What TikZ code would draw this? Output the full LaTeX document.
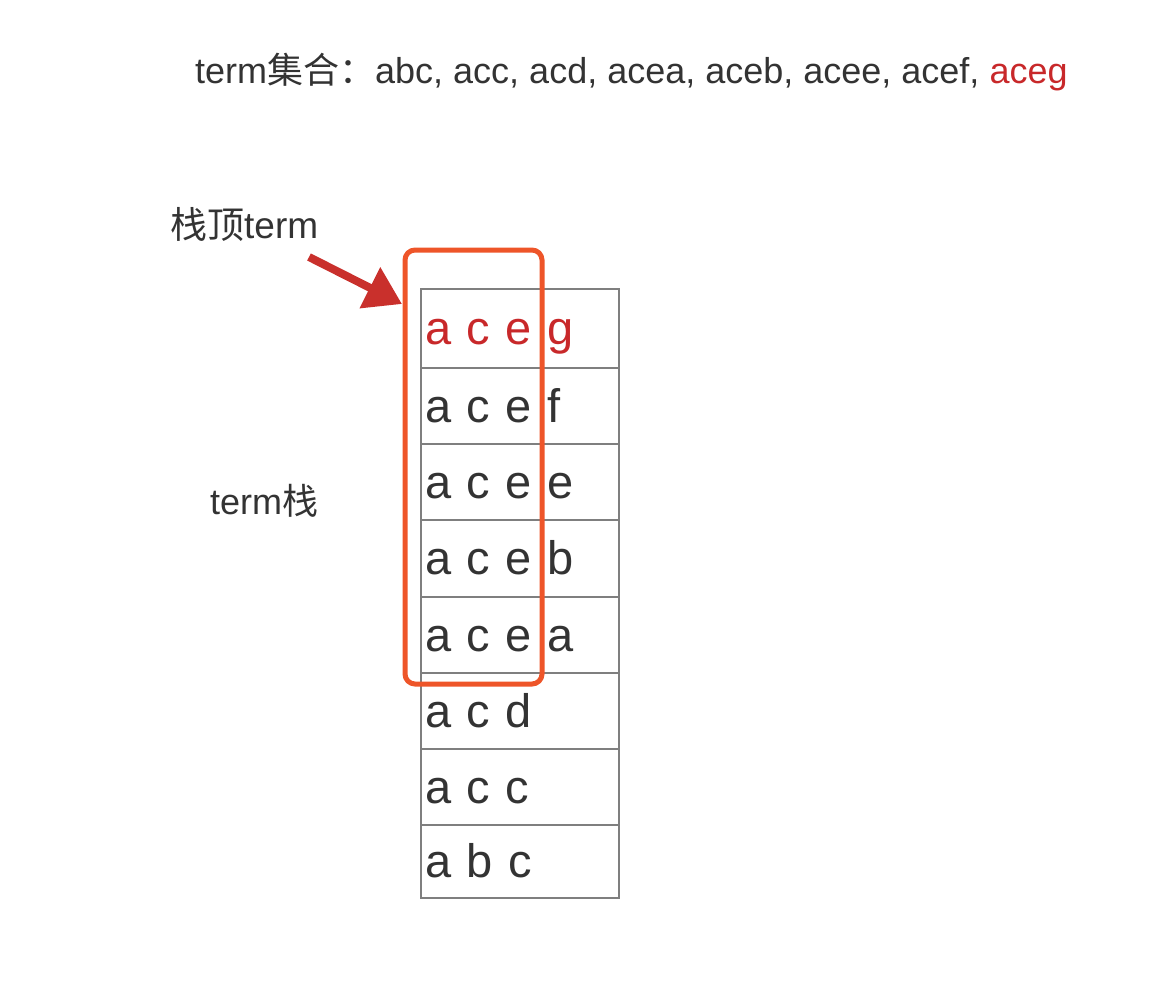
\documentclass[tikz,border=0pt]{standalone}
\usepackage{fontspec}
\setmainfont{Liberation Sans}
\newfontfamily\cjk{Noto Sans CJK SC}
\usetikzlibrary{arrows.meta}
\definecolor{txt}{HTML}{333333}
\definecolor{hired}{HTML}{C8282A}
\definecolor{hlorange}{HTML}{EE5529}
\definecolor{arrred}{HTML}{C9302C}
\definecolor{cellgray}{HTML}{7F7F7F}
\begin{document}
\begin{tikzpicture}[x=1pt,y=-1pt,
  lbl/.style={anchor=base west, inner sep=0pt, text=txt, font=\fontsize{36}{40}\selectfont},
  cell/.style={draw=cellgray, line width=1.6pt, rectangle, minimum width=198pt,
    text width=190pt, align=left, inner xsep=4pt, inner ysep=0pt,
    text height=33pt, text depth=1pt, text=txt, font=\fontsize{47}{50}\selectfont},
  hlbox/.style={draw=hlorange, line width=5pt, rounded corners=10pt, rectangle,
    minimum width=137pt, inner sep=0pt},
  bigarrow/.style={draw=arrred, line width=8pt, -{Triangle[length=36pt,width=44pt]}}
]
\useasboundingbox (0,0) rectangle (1176,996);
\node[lbl] (title) at (195,83) {term{\cjk 集合：}abc, acc, acd, acea, aceb, acee, acef, \textcolor{hired}{aceg}};
\node[lbl, font=\fontsize{37}{40}\selectfont] (toplbl) at (170,238) {{\cjk 栈顶}term};
\node[lbl] (stacklbl) at (210,514) {term{\cjk 栈}};
\node[cell, minimum height=79pt, text=hired] (r1) at (520,328.5) {a c e g};
\node[cell, minimum height=76pt] (r2) at (520,406) {a c e f};
\node[cell, minimum height=76pt] (r3) at (520,482) {a c e e};
\node[cell, minimum height=77pt] (r4) at (520,558.5) {a c e b};
\node[cell, minimum height=76pt] (r5) at (520,635) {a c e a};
\node[cell, minimum height=76pt] (r6) at (520,711) {a c d};
\node[cell, minimum height=76pt] (r7) at (520,787) {a c c};
\node[cell, minimum height=73pt] (r8) at (520,861.5) {a b c};
\node[hlbox, minimum height=434pt] (hl) at (473.5,467) {};
\coordinate (tail) at (309,257);
\coordinate (tip) at (402,304);
\draw[bigarrow] (tail) -- (tip);
\end{tikzpicture}
\end{document}
